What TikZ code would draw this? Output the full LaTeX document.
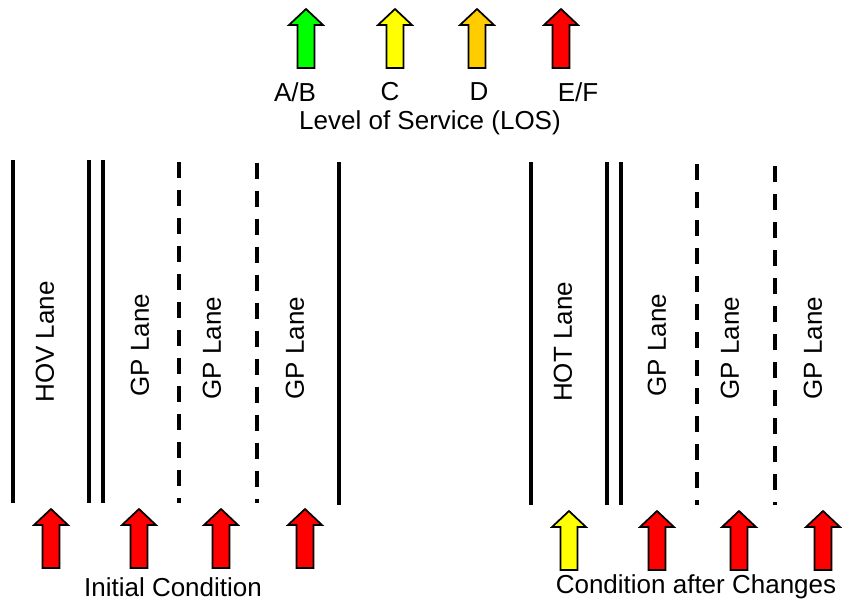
\documentclass[tikz,border=0pt]{standalone}
\usepackage{fontspec}
\setmainfont{Liberation Sans}
\usepackage{tikz}
\usetikzlibrary{positioning}
\definecolor{losgreen}{RGB}{0,255,0}
\definecolor{losyellow}{RGB}{255,255,0}
\definecolor{losorange}{RGB}{255,204,0}
\definecolor{losred}{RGB}{255,0,0}

\begin{document}
\begin{tikzpicture}[
    x=0.75pt, y=-0.75pt,
    every node/.style={font=\fontsize{19.5}{23}\selectfont, inner sep=0pt},
    lane/.style={line width=2.3pt},
    laneline/.style={line width=2.3pt, dash pattern=on 12pt off 9pt},
    lanetext/.style={rotate=90},
    pics/losarrow/.style={code={
        \draw[fill=#1, line width=1.3pt, line join=miter]
            (-8.5,0) -- (8.5,0) -- (8.5,-43) -- (17,-43) -- (0,-59)
            -- (-17,-43) -- (-8.5,-43) -- cycle;
    }},
]
    \useasboundingbox (0,0) rectangle (848,604);

    % LOS legend
    \pic (lgab) at (306,68) {losarrow=losgreen};
    \pic (lgc) at (395,68) {losarrow=losyellow};
    \pic (lgd) at (477,68) {losarrow=losorange};
    \pic (lgef) at (561,68) {losarrow=losred};
    \node (tab) at (295,92) {A/B};
    \node (tc) at (390,92) {C};
    \node (td) at (479,92) {D};
    \node (tef) at (578,92) {E/F};
    \node (los) at (430,123) {Level of Service (LOS)};

    % Initial condition
    \draw[lane] (13,160) -- (13,503);
    \draw[lane] (89,160) -- (89,503);
    \draw[lane] (103,160) -- (103,503);
    \draw[laneline] (179,162) -- (179,503);
    \draw[laneline] (257,163) -- (257,503);
    \draw[lane] (339,162) -- (339,505);
    \node[lanetext] (hov) at (45,342) {HOV Lane};
    \node[lanetext] (gp1) at (140,345) {GP Lane};
    \node[lanetext] (gp2) at (212,348) {GP Lane};
    \node[lanetext] (gp3) at (295,348) {GP Lane};
    \pic (a1) at (51,568) {losarrow=losred};
    \pic (a2) at (139,568) {losarrow=losred};
    \pic (a3) at (221,568) {losarrow=losred};
    \pic (a4) at (305,568) {losarrow=losred};
    \node (init) at (173,587) {Initial Condition};

    % Condition after changes
    \draw[lane] (531,162) -- (531,505);
    \draw[lane] (607,162) -- (607,505);
    \draw[lane] (621,162) -- (621,505);
    \draw[laneline] (697,164) -- (697,505);
    \draw[laneline] (775,166) -- (775,505);
    \node[lanetext] (hot) at (563,342) {HOT Lane};
    \node[lanetext] (gp4) at (657,345) {GP Lane};
    \node[lanetext] (gp5) at (730,348) {GP Lane};
    \node[lanetext] (gp6) at (813,348) {GP Lane};
    \pic (b1) at (569,570) {losarrow=losyellow};
    \pic (b2) at (657,570) {losarrow=losred};
    \pic (b3) at (739,570) {losarrow=losred};
    \pic (b4) at (823,570) {losarrow=losred};
    \node (after) at (696,587) {Condition after Changes};
\end{tikzpicture}
\end{document}
